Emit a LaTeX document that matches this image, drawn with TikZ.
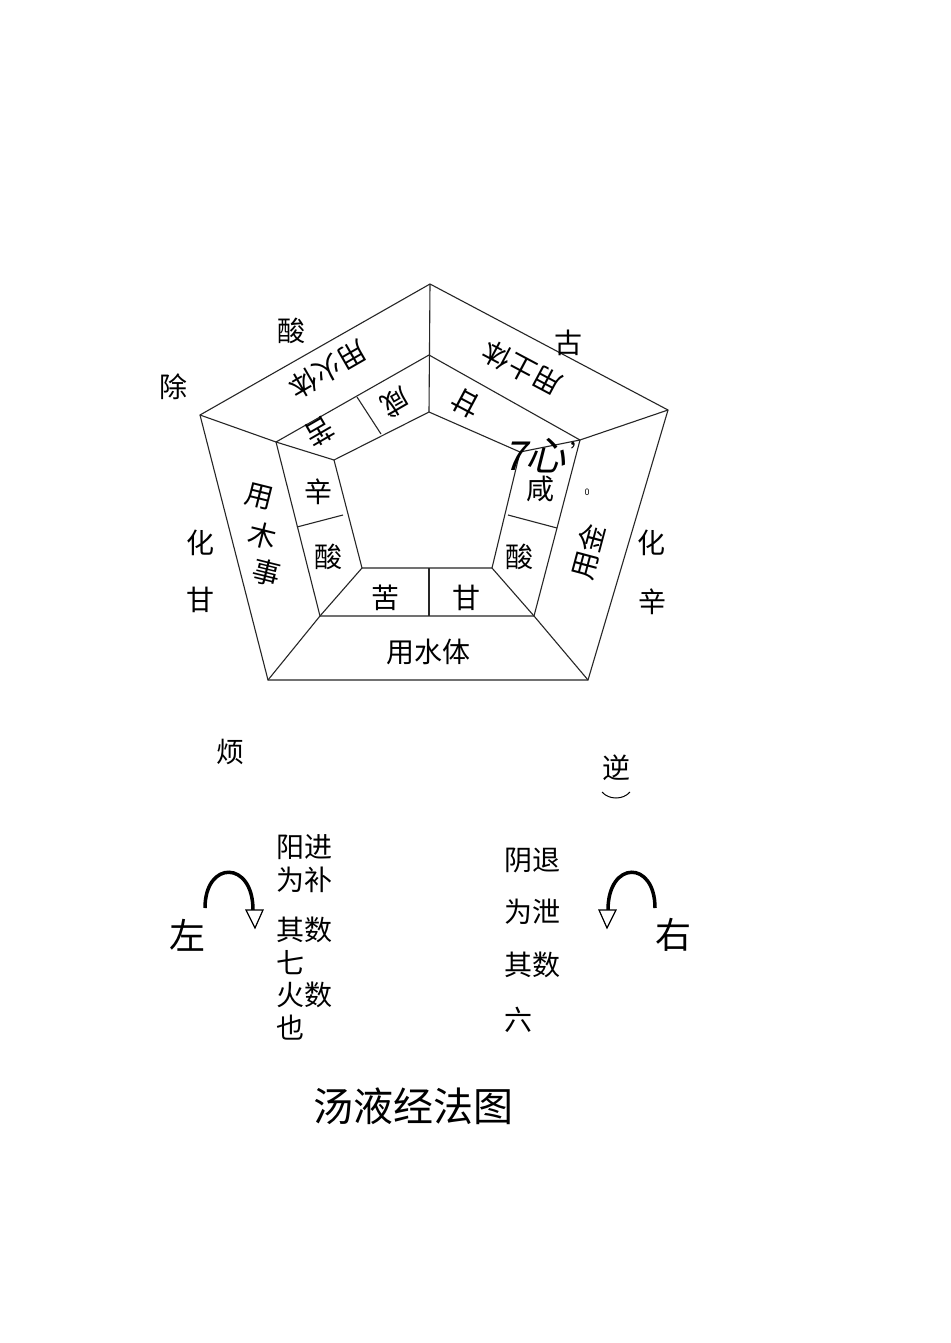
\documentclass[tikz,border=0pt]{standalone}
\usepackage{fontspec}
\usetikzlibrary{shapes.geometric}
\setmainfont{Noto Sans CJK SC}
\begin{document}
\begin{tikzpicture}[x=1pt,y=-1pt,line width=1.1pt,
  lab/.style={font=\fontsize{28}{30}\selectfont,inner sep=0pt},
  big/.style={font=\fontsize{36}{38}\selectfont,inner sep=0pt},
  edge/.style={draw=black!85,line width=1.1pt}]
\useasboundingbox[fill=white] (0,0) rectangle (950,1343);
% outer
\coordinate (OT) at (430,284); \coordinate (OR) at (668,410); \coordinate (OBR) at (588,680);
\coordinate (OBL) at (268,680); \coordinate (OL) at (200,415);
% middle
\coordinate (MT) at (429,355); \coordinate (MR) at (580,440); \coordinate (MBR) at (534,616);
\coordinate (MBL) at (320,616); \coordinate (ML) at (276,442);
% inner
\coordinate (IT) at (429,412); \coordinate (IR) at (520,452); \coordinate (IBR) at (492,568);
\coordinate (IBL) at (362,568); \coordinate (IL) at (334,460);
\draw[edge] (OT)--(OR)--(OBR)--(OBL)--(OL)--cycle;
\draw[edge] (MT)--(MR)--(MBR)--(MBL)--(ML)--cycle;
\draw[edge] (IT)--(IR)--(IBR)--(IBL)--(IL)--cycle;
\draw[edge] (OT)--(IT);
\draw[edge] (OR)--(MR)--(IR);
\draw[edge] (OBR)--(MBR)--(IBR);
\draw[edge] (OBL)--(MBL)--(IBL);
\draw[edge] (OL)--(ML)--(IL);
% ring dividers
\coordinate (d1a) at (357,397); \coordinate (d1b) at (381,434);
\draw[edge] (d1a)--(d1b);
\coordinate (d2a) at (297,527); \coordinate (d2b) at (343,515);
\draw[edge] (d2a)--(d2b);
\coordinate (d3a) at (508,515); \coordinate (d3b) at (557,528);
\draw[edge] (d3a)--(d3b);
\coordinate (d4a) at (429,568); \coordinate (d4b) at (429,616);
\draw[edge] (d4a)--(d4b);
% ring texts
\node[lab,rotate=210] (t1) at (328,370) {用火体};
\node[lab,rotate=210] (t2) at (320,432) {苦};
\node[lab,rotate=210] (t3) at (396,403) {咸};
\node[lab,rotate=152] (t4) at (522,368) {用土体};
\node[lab,rotate=152] (t5) at (466,403) {甘};
\node[lab] (t6) at (318,492) {辛};
\node[lab] (t7) at (328,557) {酸};
\node[lab] (t8) at (519,557) {酸};
\node[lab] (t9) at (540,489) {咸};
\node[lab,rotate=-14] (t10a) at (259,497) {用};
\node[lab,rotate=-14] (t10b) at (263,536) {木};
\node[lab,rotate=-14] (t10c) at (267,573) {事};
\node[lab,rotate=75] (t11) at (588,552) {用金};
\node[lab] (t12) at (385,598) {苦};
\node[lab] (t13) at (466,598) {甘};
\node[lab] (t14) at (428,652) {用水体};
\node[font=\fontsize{40}{40}\selectfont,inner sep=0pt,xslant=0.25] (t15) at (538,456) {7心};
\node[font=\fontsize{24}{24}\selectfont,inner sep=0pt] (t15b) at (582,452) {'};
\node[font=\fontsize{9}{9}\selectfont,inner sep=0pt] (t16) at (587,492) {0};
% outside
\node[lab] (o1) at (291,331) {酸};
\node[lab] (o2) at (173,387) {除};
\node[lab] (o3) at (568,343) {古};
\node[lab] (o4) at (200,543) {化};
\node[lab] (o5) at (200,600) {甘};
\node[lab] (o6) at (651,543) {化};
\node[lab] (o7) at (652,602) {辛};
\node[lab] (o8) at (230,752) {烦};
\node[lab] (o9) at (616,768) {逆};
\coordinate (p1) at (602,792); \coordinate (p2) at (630,792);
\draw[line width=1pt] (p1) .. controls (609,800) and (623,800) .. (p2);
% bottom texts
\node[lab,anchor=west] (b1) at (276,847) {阳进};
\node[lab,anchor=west] (b2) at (276,880) {为补};
\node[lab,anchor=west] (b3) at (276,930) {其数};
\node[lab,anchor=west] (b4) at (276,963) {七};
\node[lab,anchor=west] (b5) at (276,995) {火数};
\node[lab,anchor=west] (b6) at (276,1028) {也};
\node[lab,anchor=west] (c1) at (504,860) {阴退};
\node[lab,anchor=west] (c2) at (504,912) {为泄};
\node[lab,anchor=west] (c3) at (504,965) {其数};
\node[lab,anchor=west] (c4) at (504,1020) {六};
\node[big] (z) at (187,935) {左};
\node[big] (y) at (673,935) {右};
% arrows
\coordinate (la) at (205,908); \coordinate (lb) at (253,910);
\draw[line width=3.5pt] (la) .. controls (205,860) and (253,860) .. (lb);
\draw[line width=1.2pt,fill=white] (246,910) -- (263,910) -- (255,928) -- cycle;
\coordinate (ra) at (655,908); \coordinate (rb) at (608,910);
\draw[line width=3.5pt] (ra) .. controls (655,860) and (608,860) .. (rb);
\draw[line width=1.2pt,fill=white] (599,910) -- (616,910) -- (607,928) -- cycle;
\node[font=\fontsize{40}{42}\selectfont,inner sep=0pt] (title) at (413,1106) {汤液经法图};
\end{tikzpicture}
\end{document}
